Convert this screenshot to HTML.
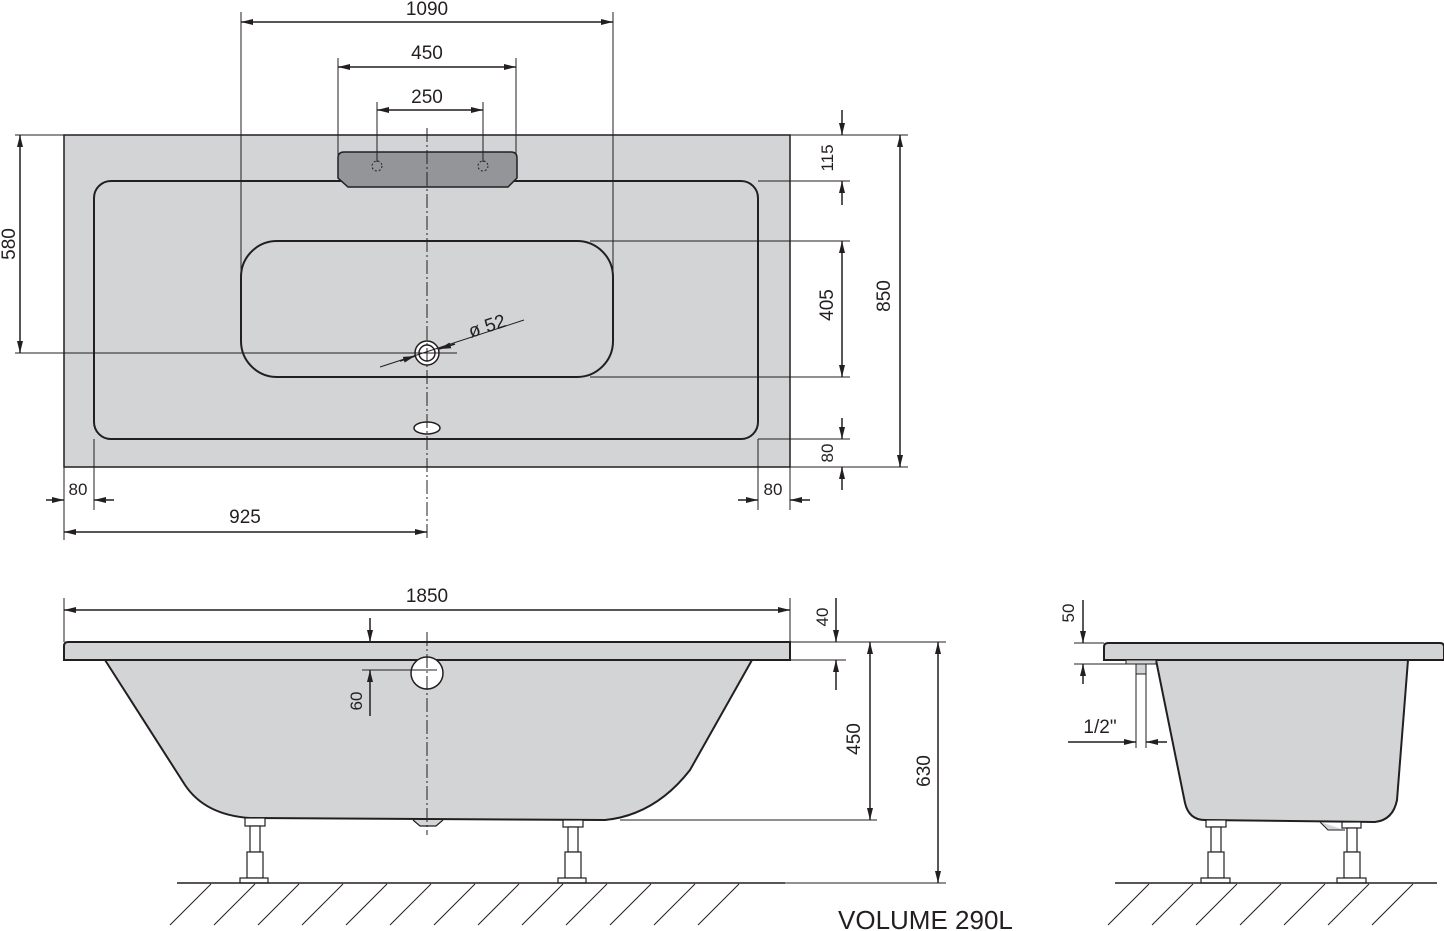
<!DOCTYPE html>
<html><head><meta charset="utf-8"><style>
html,body{margin:0;padding:0;background:#fff;}
svg{display:block;}
text{font-family:"Liberation Sans",sans-serif;fill:#231f20;}
</style></head><body>
<svg width="1444" height="931" viewBox="0 0 1444 931" xmlns="http://www.w3.org/2000/svg">
<defs>
<marker id="a" viewBox="0 0 12 6" refX="12" refY="3" markerWidth="12" markerHeight="6" markerUnits="userSpaceOnUse" orient="auto-start-reverse"><path d="M0,0 L12,3 L0,6 z" fill="#231f20"/></marker>
</defs>
<g stroke="#231f20" fill="none">
<!-- TOP VIEW -->
<rect x="64" y="135" width="726" height="332" fill="#d3d4d6" stroke-width="1.5"/>
<rect x="94" y="181" width="664" height="258" rx="17" stroke-width="2"/>
<rect x="241" y="241" width="372" height="136" rx="36" stroke-width="2"/>
<path d="M344,152 H511 Q517,152 517,158 V178 L508,187 H348 L338,178 V158 Q338,152 344,152 Z" fill="#939598" stroke-width="1.5"/>
<circle cx="377" cy="166" r="5" stroke-dasharray="2,2" stroke-width="1"/>
<circle cx="483" cy="166" r="5" stroke-dasharray="2,2" stroke-width="1"/>
<ellipse cx="427" cy="428" rx="13" ry="6" fill="#fff" stroke-width="1.5"/>
<circle cx="427" cy="353" r="12" fill="#fff" stroke-width="1.5"/>
<circle cx="427" cy="353" r="8" fill="#fff" stroke-width="1.5"/>
<line x1="427" y1="128" x2="427" y2="540" stroke-dasharray="14,3,2,3" stroke-width="1"/>
<g stroke-width="1">
<line x1="241" y1="12" x2="241" y2="345"/><line x1="613" y1="12" x2="613" y2="290"/>
<line x1="338" y1="58" x2="338" y2="155"/><line x1="516" y1="58" x2="516" y2="155"/>
<line x1="377" y1="102" x2="377" y2="162"/><line x1="483" y1="102" x2="483" y2="162"/>
<line x1="15" y1="135" x2="64" y2="135"/><line x1="15" y1="353" x2="457" y2="353"/>
<line x1="790" y1="135" x2="908" y2="135"/><line x1="758" y1="181" x2="850" y2="181"/>
<line x1="590" y1="241" x2="850" y2="241"/><line x1="590" y1="377" x2="850" y2="377"/>
<line x1="758" y1="439" x2="850" y2="439"/><line x1="790" y1="467" x2="908" y2="467"/>
<line x1="64" y1="467" x2="64" y2="540"/><line x1="94" y1="439" x2="94" y2="510"/>
<line x1="758" y1="439" x2="758" y2="510"/><line x1="790" y1="467" x2="790" y2="510"/>
<line x1="380" y1="367" x2="524" y2="320"/>
</g>
<g stroke-width="1.5">
<line x1="241" y1="22" x2="613" y2="22" marker-start="url(#a)" marker-end="url(#a)"/>
<line x1="338" y1="67" x2="516" y2="67" marker-start="url(#a)" marker-end="url(#a)"/>
<line x1="377" y1="110" x2="483" y2="110" marker-start="url(#a)" marker-end="url(#a)"/>
<line x1="20" y1="135" x2="20" y2="353" marker-start="url(#a)" marker-end="url(#a)"/>
<line x1="842" y1="110" x2="842" y2="135" marker-end="url(#a)"/>
<line x1="842" y1="205" x2="842" y2="181" marker-end="url(#a)"/>
<line x1="842" y1="241" x2="842" y2="377" marker-start="url(#a)" marker-end="url(#a)"/>
<line x1="842" y1="418" x2="842" y2="439" marker-end="url(#a)"/>
<line x1="842" y1="490" x2="842" y2="467" marker-end="url(#a)"/>
<line x1="900" y1="135" x2="900" y2="467" marker-start="url(#a)" marker-end="url(#a)"/>
<line x1="46" y1="500" x2="64" y2="500" marker-end="url(#a)"/>
<line x1="114" y1="500" x2="94" y2="500" marker-end="url(#a)"/>
<line x1="738" y1="500" x2="758" y2="500" marker-end="url(#a)"/>
<line x1="810" y1="500" x2="790" y2="500" marker-end="url(#a)"/>
<line x1="64" y1="532" x2="427" y2="532" marker-start="url(#a)" marker-end="url(#a)"/>
<line x1="400" y1="361" x2="415" y2="356" marker-end="url(#a)"/>
<line x1="455" y1="344" x2="439" y2="349" marker-end="url(#a)"/>
</g>

<!-- SIDE VIEW -->
<path d="M105,660 L185,785 Q205,815 250,818 L605,820 Q655,815 690,770 L752,660 Z" fill="#d3d4d6" stroke-width="2"/>
<path d="M68,642 H790 V660 H64 V646 Q64,642 68,642 Z" fill="#d3d4d6" stroke-width="2"/>
<circle cx="427" cy="673" r="16" fill="#fff" stroke-width="1.5"/>
<path d="M413,820 L420,826 H436 L443,820" fill="#d3d4d6" stroke-width="1.2"/>
<line x1="427" y1="632" x2="427" y2="835" stroke-dasharray="14,3,2,3" stroke-width="1"/>
<g stroke-width="1.2" fill="#fff">
<rect x="245" y="818" width="20" height="8"/><rect x="250" y="826" width="10" height="26"/><rect x="247" y="852" width="16" height="26"/><rect x="240" y="878" width="28" height="5"/>
<rect x="563" y="820" width="20" height="7"/><rect x="568" y="827" width="10" height="25"/><rect x="565" y="852" width="16" height="26"/><rect x="558" y="878" width="28" height="5"/>
</g>
<line x1="177" y1="883" x2="785" y2="883" stroke-width="1.5"/>
<g stroke-width="1">
<path d="M211,884 L170,925 M255,884 L214,925 M299,884 L258,925 M343,884 L302,925 M387,884 L346,925 M431,884 L390,925 M475,884 L434,925 M519,884 L478,925 M563,884 L522,925 M607,884 L566,925 M651,884 L610,925 M695,884 L654,925 M739,884 L698,925"/>
<line x1="64" y1="598" x2="64" y2="642"/><line x1="790" y1="598" x2="790" y2="642"/>
<line x1="790" y1="642" x2="946" y2="642"/><line x1="790" y1="660" x2="846" y2="660"/>
<line x1="362" y1="670" x2="437" y2="670"/>
<line x1="620" y1="820" x2="877" y2="820"/><line x1="785" y1="883" x2="946" y2="883"/>
</g>
<g stroke-width="1.5">
<line x1="64" y1="610" x2="790" y2="610" marker-start="url(#a)" marker-end="url(#a)"/>
<line x1="836" y1="598" x2="836" y2="642" marker-end="url(#a)"/>
<line x1="836" y1="690" x2="836" y2="660" marker-end="url(#a)"/>
<line x1="370" y1="618" x2="370" y2="642" marker-end="url(#a)"/>
<line x1="370" y1="716" x2="370" y2="670" marker-end="url(#a)"/>
<line x1="870" y1="642" x2="870" y2="820" marker-start="url(#a)" marker-end="url(#a)"/>
<line x1="938" y1="642" x2="938" y2="883" marker-start="url(#a)" marker-end="url(#a)"/>
</g>

<!-- END VIEW -->
<path d="M1156,660 L1185,803 Q1189,820 1205,820 L1375,822 Q1393,820 1397,800 L1408,660 Z" fill="#d3d4d6" stroke-width="2"/>
<path d="M1108,643 H1440 Q1444,643 1444,647 V660 H1104 V647 Q1104,643 1108,643 Z" fill="#d3d4d6" stroke-width="2"/>
<rect x="1126" y="660" width="30" height="4" fill="#d3d4d6" stroke-width="1"/>
<rect x="1136" y="664" width="10" height="10" fill="#d3d4d6" stroke-width="1"/>
<line x1="1136" y1="674" x2="1136" y2="748" stroke-width="1"/><line x1="1146" y1="674" x2="1146" y2="748" stroke-width="1"/>
<path d="M1320,822 L1328,830 H1345" fill="#d3d4d6" stroke-width="1"/>
<g stroke-width="1.2" fill="#fff">
<rect x="1206" y="820" width="20" height="7"/><rect x="1211" y="827" width="10" height="25"/><rect x="1208" y="852" width="16" height="26"/><rect x="1201" y="878" width="29" height="5"/>
<rect x="1342" y="822" width="19" height="6"/><rect x="1347" y="828" width="10" height="24"/><rect x="1344" y="852" width="16" height="26"/><rect x="1337" y="878" width="29" height="5"/>
</g>
<line x1="1115" y1="883" x2="1437" y2="883" stroke-width="1.5"/>
<path stroke-width="1" d="M1149,884 L1108,925 M1193,884 L1152,925 M1237,884 L1196,925 M1281,884 L1240,925 M1325,884 L1284,925 M1369,884 L1328,925 M1413,884 L1372,925"/>
<g stroke-width="1">
<line x1="1074" y1="643" x2="1104" y2="643"/><line x1="1074" y1="664" x2="1126" y2="664"/>
</g>
<g stroke-width="1.5">
<line x1="1083" y1="600" x2="1083" y2="643" marker-end="url(#a)"/>
<line x1="1083" y1="684" x2="1083" y2="664" marker-end="url(#a)"/>
<line x1="1068" y1="742" x2="1136" y2="742" marker-end="url(#a)"/>
<line x1="1167" y1="742" x2="1146" y2="742" marker-end="url(#a)"/>
</g>
</g>

<g font-size="19">
<text x="427" y="15" text-anchor="middle">1090</text>
<text x="427" y="59" text-anchor="middle">450</text>
<text x="427" y="103" text-anchor="middle">250</text>
<text transform="translate(15,244) rotate(-90)" text-anchor="middle">580</text>
<text transform="translate(833,158) rotate(-90)" text-anchor="middle" font-size="17">115</text>
<text transform="translate(833,305) rotate(-90)" text-anchor="middle">405</text>
<text transform="translate(833,453) rotate(-90)" text-anchor="middle" font-size="17">80</text>
<text transform="translate(890,296) rotate(-90)" text-anchor="middle">850</text>
<text x="78" y="495" text-anchor="middle" font-size="17">80</text>
<text x="773" y="495" text-anchor="middle" font-size="17">80</text>
<text x="245" y="523" text-anchor="middle">925</text>
<text transform="translate(489,332) rotate(-18)" text-anchor="middle">ø 52</text>
<text x="427" y="602" text-anchor="middle">1850</text>
<text transform="translate(828,617) rotate(-90)" text-anchor="middle" font-size="17">40</text>
<text transform="translate(362,701) rotate(-90)" text-anchor="middle" font-size="17">60</text>
<text transform="translate(860,739) rotate(-90)" text-anchor="middle">450</text>
<text transform="translate(930,771) rotate(-90)" text-anchor="middle">630</text>
<text transform="translate(1074,613) rotate(-90)" text-anchor="middle" font-size="17">50</text>
<text x="1100" y="733" text-anchor="middle">1/2"</text>
<text x="838" y="929" font-size="26">VOLUME 290L</text>
</g>
</svg>
</body></html>
